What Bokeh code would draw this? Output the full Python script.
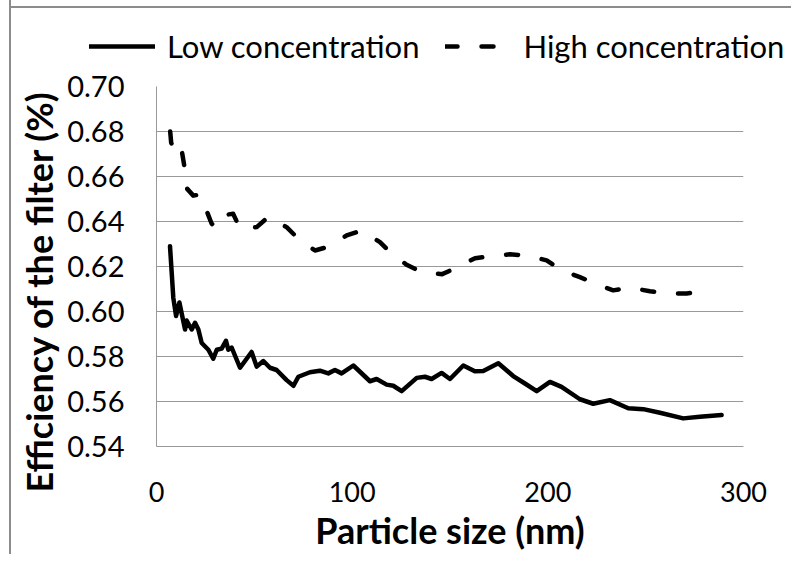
from bokeh.plotting import figure
from bokeh.models import (FixedTicker, PrintfTickFormatter, Legend, LegendItem, Title,
                          Range1d)
from bokeh.embed import file_html
from bokeh.resources import INLINE

# ---- data ----
low_x = [6.9, 8.6, 10.0, 11.7, 12.9, 14.6, 15.4, 18.0, 19.7, 21.4, 23.1, 26.5, 29.0, 30.8,
         33.3, 35.5, 36.7, 38.4, 42.7, 48.6, 51.2, 54.6, 58.0, 61.4, 66.5, 70.0, 72.5, 78.4,
         83.5, 87.8, 91.2, 94.6, 100.6, 109.1, 112.5, 117.6, 121.0, 125.3, 133.0, 137.2,
         140.6, 145.7, 150.0, 156.8, 162.7, 167.0, 174.7, 182.3, 188.3, 194.3, 201.1, 207.0,
         216.4, 223.2, 231.7, 241.1, 248.8, 257.3, 269.2, 277.7, 288.8]
low_y = [0.629, 0.606, 0.598, 0.604, 0.599, 0.592, 0.596, 0.592, 0.595, 0.592, 0.586, 0.583,
         0.579, 0.583, 0.5835, 0.587, 0.583, 0.584, 0.575, 0.582, 0.5755, 0.578, 0.575, 0.574,
         0.5695, 0.567, 0.571, 0.573, 0.5737, 0.5725, 0.574, 0.5725, 0.576, 0.569, 0.570,
         0.5675, 0.567, 0.5646, 0.5705, 0.571, 0.570, 0.5727, 0.570, 0.576, 0.5734, 0.5736,
         0.577, 0.5713, 0.568, 0.5646, 0.5687, 0.5665, 0.561, 0.559, 0.5606, 0.557, 0.5566,
         0.555, 0.5525, 0.5532, 0.554]

high_x = [7.0, 7.5, 10.3, 12.9, 14.6, 15.7, 18.8, 22.2, 23.9, 28.2, 29.9, 32.4, 39.2, 42.7,
          51.2, 57.1, 66.5, 72.5, 81.0, 88.7, 97.2, 104.9, 114.2, 119.3, 127.8, 135.5, 146.0,
          153.4, 162.8, 171.3, 180.6, 190.0, 199.4, 207.0, 216.4, 224.0, 233.4, 242.0, 252.2,
          260.7, 271.0, 279.4]
high_y = [0.680, 0.675, 0.669, 0.6715, 0.6626, 0.6545, 0.6515, 0.652, 0.6486, 0.639, 0.638,
          0.6427, 0.6434, 0.6368, 0.6375, 0.642, 0.6375, 0.6323, 0.6271, 0.629, 0.6338, 0.636,
          0.6308, 0.6264, 0.6208, 0.6175, 0.6166, 0.6195, 0.6237, 0.6246, 0.6254, 0.6248,
          0.6227, 0.6183, 0.6153, 0.6124, 0.6094, 0.6106, 0.609, 0.608, 0.608, 0.609]

x_ticks = [0, 100, 200, 300]
y_ticks = [0.54, 0.56, 0.58, 0.60, 0.62, 0.64, 0.66, 0.68, 0.70]
series_names = ["Low concentration", "High concentration"]
x_title = "Particle size (nm)"
y_title = "Efficiency of the filter (%)"

FONT = "Lato"
GRID = "#999999"
EDGE = "#8c8c8c"
LW = 4.5
DASH = "12 24"

W = 791
LEG_H = 66
NAN = float("nan")

edge_top_left = {
    "background-image": f"linear-gradient({EDGE}, {EDGE}), linear-gradient({EDGE}, {EDGE})",
    "background-size": "2px 100%, 100% 2px",
    "background-position": "9px 0px, 9px 6px",
    "background-repeat": "no-repeat",
}
edge_left = {
    "background-image": f"linear-gradient({EDGE}, {EDGE})",
    "background-size": "2px 100%",
    "background-position": "9px 0px",
    "background-repeat": "no-repeat",
}

# ---------- legend strip on top ----------
lf = figure(width=W, height=LEG_H, output_backend="svg", toolbar_location=None,
            x_range=Range1d(0, W), y_range=Range1d(0, LEG_H), min_border=0,
            x_axis_type=None, y_axis_type=None)
lf.outline_line_color = None
lf.grid.visible = False
lf.background_fill_color = None
lf.border_fill_color = None
lf.styles = edge_top_left
lr_low = lf.line([NAN], [NAN], line_color="black", line_width=LW, line_cap="round")
lr_high = lf.line([NAN], [NAN], line_color="black", line_width=LW, line_cap="round",
                  line_dash=DASH)
legend = Legend(items=[LegendItem(label=series_names[0], renderers=[lr_low]),
                       LegendItem(label=series_names[1], renderers=[lr_high])],
                orientation="horizontal", location=(89, 1),
                glyph_width=66, glyph_height=30, label_standoff=12, spacing=26,
                padding=0, margin=0, border_line_color=None, background_fill_alpha=0,
                label_text_font=FONT, label_text_font_size="31px", label_text_color="black")
lf.add_layout(legend, "center")

# ---------- main chart ----------
p = figure(width=W, height=554 - LEG_H, output_backend="svg", toolbar_location=None,
           x_range=Range1d(0, 300), y_range=Range1d(0.54, 0.70),
           min_border_left=156, min_border_right=48, min_border_top=86 - LEG_H,
           min_border_bottom=108)
p.outline_line_color = None
p.background_fill_color = "white"
p.border_fill_color = None
p.styles = edge_left

p.xaxis.ticker = FixedTicker(ticks=x_ticks)
p.yaxis.ticker = FixedTicker(ticks=y_ticks)
p.yaxis.formatter = PrintfTickFormatter(format="%.2f")
for ax in (p.xaxis[0], p.yaxis[0]):
    ax.axis_line_color = GRID
    ax.axis_line_width = 1
    ax.major_tick_line_color = None
    ax.minor_tick_line_color = None
    ax.major_label_text_font = FONT
    ax.major_label_text_color = "black"
p.yaxis.major_label_text_font_size = "29px"
p.xaxis.major_label_text_font_size = "27px"
p.yaxis.major_label_standoff = 26
p.xaxis.major_label_standoff = 29
p.xaxis.axis_label = x_title
p.xaxis.axis_label_text_font = FONT
p.xaxis.axis_label_text_font_style = "bold"
p.xaxis.axis_label_text_font_size = "36px"
p.xaxis.axis_label_text_color = "black"
p.xaxis.axis_label_standoff = 3

p.xgrid.grid_line_color = None
p.ygrid.grid_line_color = GRID
p.ygrid.grid_line_width = 1

p.line(low_x, low_y, line_color="black", line_width=LW, line_join="round",
       line_cap="round")
p.line(high_x, high_y, line_color="black", line_width=LW, line_join="round",
       line_cap="round", line_dash=DASH)

ytitle = Title(text=y_title, align="left", offset=-46, vertical_align="bottom",
               text_font=FONT, text_font_style="bold", text_font_size="36px",
               text_color="black", standoff=8)
p.add_layout(ytitle, "left")

open("out.html", "w").write(file_html([lf, p], INLINE))
